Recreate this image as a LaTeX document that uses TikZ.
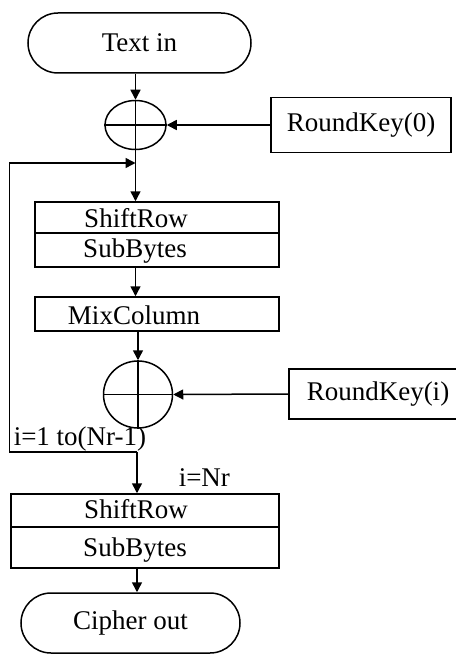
\documentclass[tikz,border=0pt]{standalone}
\usepackage{fontspec}
\setmainfont{Liberation Serif}
\usetikzlibrary{arrows.meta,shapes.geometric}
\tikzset{
  term/.style={draw, rounded corners=30pt, minimum height=60pt, inner sep=0pt},
  box/.style={draw, inner sep=0pt},
  xor/.style={draw, ellipse, inner sep=0pt},
  lbl/.style={inner sep=0pt, anchor=base},
}
\begin{document}
\begin{tikzpicture}[x=1pt,y=-1pt,>={Triangle[length=10pt,width=10pt]},line width=1.5pt,
  every node/.style={font=\fontsize{27}{30}\selectfont}]
\useasboundingbox (0,0) rectangle (455,655);
\node[term,minimum width=223pt] (textin) at (139.5,43) {Text in};
\node[xor,minimum width=61pt,minimum height=49pt] (xor0) at (135.5,125) {};
\draw (xor0.north)--(xor0.south) (xor0.west)--(xor0.east);
\node[box,minimum width=180pt,minimum height=55pt] (key0) at (361,125) {RoundKey(0)};

\node[box,minimum width=244pt,minimum height=31pt] (sr1) at (157,217.5) {};
\node[box,minimum width=244pt,minimum height=34pt] (sb1) at (157,250) {};
\node[lbl] (sr1t) at (136,227) {ShiftRow};
\node[lbl] (sb1t) at (135,257) {SubBytes};
\node[box,minimum width=244pt,minimum height=34pt] (mix) at (157,314) {};
\node[lbl] (mixt) at (134,324) {MixColumn};

\node[xor,minimum width=69pt,minimum height=67pt] (xor1) at (138,394.5) {};
\draw (xor1.north)--(xor1.south) (xor1.west)--(xor1.east);
\node[box,minimum width=178pt,minimum height=50pt] (key1) at (378,394) {RoundKey(i)};

\node[lbl,anchor=base west] (loopt) at (13,445) {i=1 to(Nr-1)};
\node[lbl,anchor=base west] (lastt) at (178,486) {i=Nr};

\node[box,minimum width=268pt,minimum height=33pt] (sr2) at (145,510.5) {};
\node[box,minimum width=268pt,minimum height=41pt] (sb2) at (145,547.5) {};
\node[lbl] (sr2t) at (136,518) {ShiftRow};
\node[lbl] (sb2t) at (135,556) {SubBytes};
\node[term,minimum width=219pt] (cipher) at (130.5,623) {Cipher out};

\coordinate (join) at (135.5,163);
\coordinate (loop) at (9.5,163);
\coordinate (turn) at (137,452);

\draw[->] (textin.south -| xor0) -- (xor0.north);
\draw[->] (key0.west) -- (xor0.east);
\draw[->] (xor0.south) -- (xor0.south |- sr1.north);
\draw[->] (xor0.south |- sb1.south) -- (xor0.south |- mix.north);
\draw[->] (mix.south -| xor1) -- (xor1.north);
\draw[->] (key1.west) -- (xor1.east);
\draw[->] (turn) -| (loop) -- (join);
\draw[->] (turn) -- (sr2.north -| turn);
\draw[->] (sb2.south -| turn) -- (cipher.north -| turn);

\end{tikzpicture}
\end{document}
